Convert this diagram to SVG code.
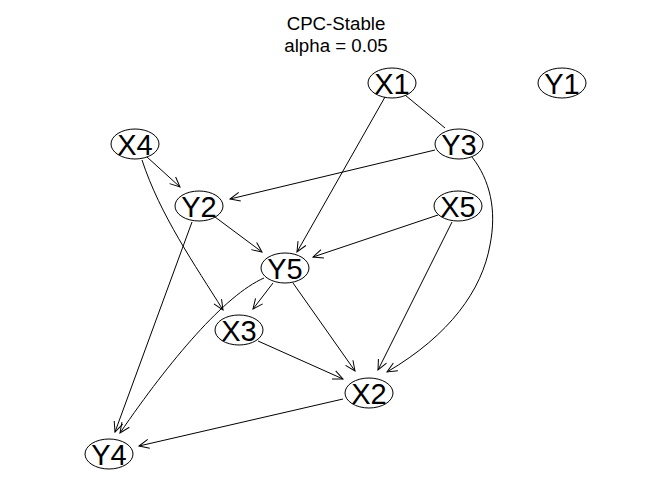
<svg xmlns="http://www.w3.org/2000/svg" width="672" height="480" viewBox="0 0 672 480">
<style>
.title{font-family:"Liberation Sans",Arial,sans-serif;font-size:18.7px;fill:#000;text-anchor:middle}
.node ellipse{fill:#fff;stroke:#000;stroke-width:1}
.node text{font-family:"Liberation Sans",Arial,sans-serif;font-size:29px;fill:#000;text-anchor:middle}
#edges path{fill:none;stroke:#000;stroke-width:1}
.arr{marker-end:url(#ah)}
</style>
<defs>
<marker id="ah" viewBox="-12 -6 13 12" refX="0" refY="0" markerWidth="13" markerHeight="12" markerUnits="userSpaceOnUse" orient="auto">
<path d="M-10,-4.5 L0,0 L-10,4.5" fill="none" stroke="#000" stroke-width="1"/>
</marker>
</defs>
<rect width="672" height="480" fill="#fff"/>
<text class="title" x="336" y="30">CPC-Stable</text>
<text class="title" x="336" y="51.5">alpha = 0.05</text>
<g id="edges">
<path d="M405,95 L445,128"/>
<path class="arr" d="M385,97 L297,252"/>
<path class="arr" d="M435,150 L230,199"/>
<path class="arr" d="M472,157 C490,180 497,210 490,245 C482,290 450,335 387,372"/>
<path class="arr" d="M147,157 L180,187"/>
<path class="arr" d="M142,160 C160,215 195,265 223,310"/>
<path class="arr" d="M215,217 L262,252"/>
<path class="arr" d="M192,222 L115,432"/>
<path class="arr" d="M438,215 L313,257"/>
<path class="arr" d="M452,222 L378,370"/>
<path class="arr" d="M273,283 L253,309"/>
<path class="arr" d="M293,283 L355,371"/>
<path class="arr" d="M264,278 C225,295 170,360 120,433"/>
<path class="arr" d="M258,341 L343,379"/>
<path class="arr" d="M343,399 L139,446"/>
</g>
<g id="X1" class="node"><ellipse cx="392" cy="83" rx="24" ry="15"/><text x="392" y="93.5">X1</text></g>
<g id="Y1" class="node"><ellipse cx="562" cy="83" rx="24" ry="15"/><text x="562" y="93.5">Y1</text></g>
<g id="X4" class="node"><ellipse cx="135" cy="144" rx="24" ry="15"/><text x="135" y="154.5">X4</text></g>
<g id="Y3" class="node"><ellipse cx="459" cy="144" rx="24" ry="15"/><text x="459" y="154.5">Y3</text></g>
<g id="Y2" class="node"><ellipse cx="199" cy="206" rx="24" ry="15"/><text x="199" y="216.5">Y2</text></g>
<g id="X5" class="node"><ellipse cx="458" cy="206" rx="24" ry="15"/><text x="458" y="216.5">X5</text></g>
<g id="Y5" class="node"><ellipse cx="285" cy="268" rx="24" ry="15"/><text x="285" y="278.5">Y5</text></g>
<g id="X3" class="node"><ellipse cx="239" cy="330" rx="24" ry="15"/><text x="239" y="340.5">X3</text></g>
<g id="X2" class="node"><ellipse cx="369" cy="393" rx="24" ry="15"/><text x="369" y="403.5">X2</text></g>
<g id="Y4" class="node"><ellipse cx="109" cy="454" rx="24" ry="15"/><text x="109" y="464.5">Y4</text></g>
</svg>
